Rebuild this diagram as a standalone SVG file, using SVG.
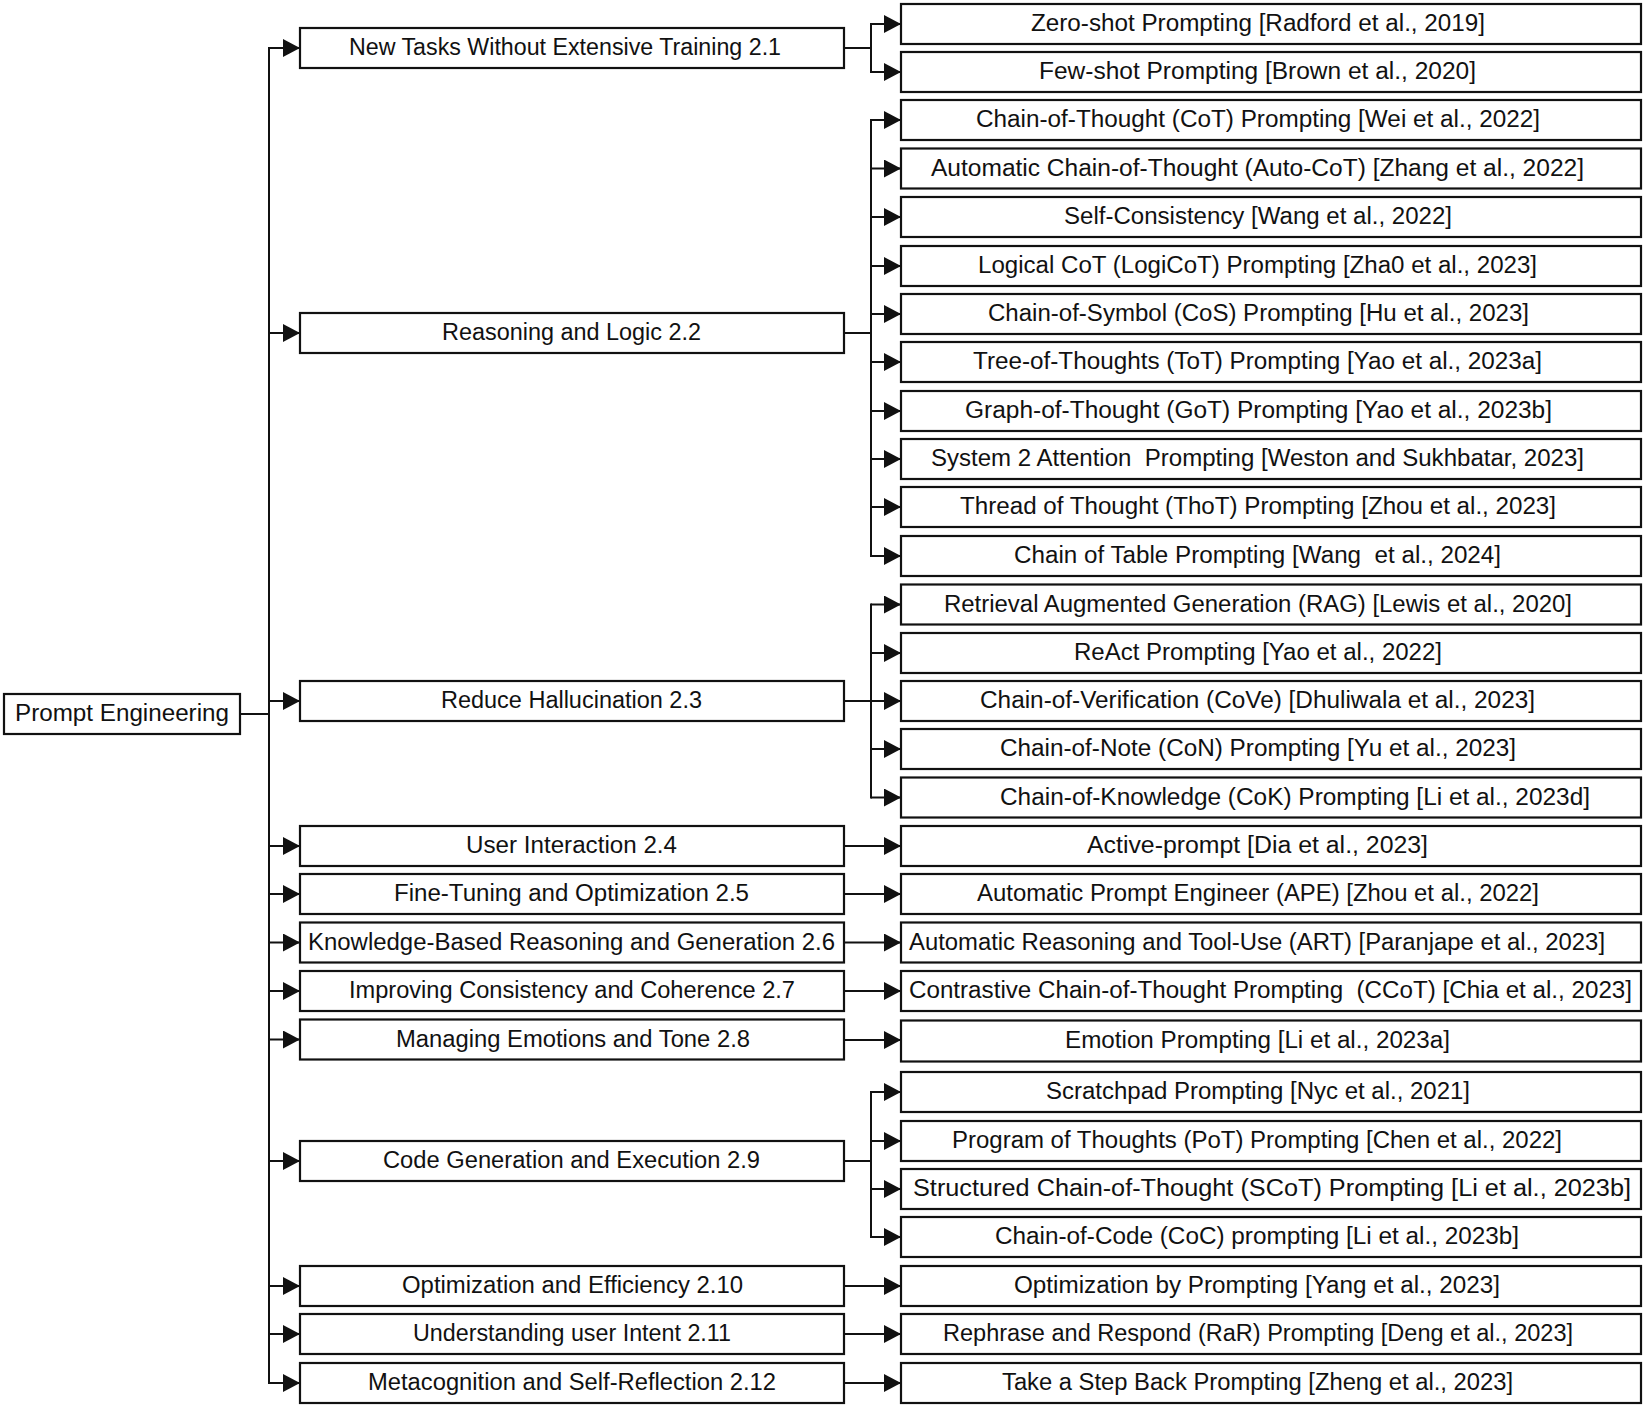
<svg xmlns="http://www.w3.org/2000/svg" width="1644" height="1407" viewBox="0 0 1644 1407">
<style>
.box{fill:#fff;stroke:#111;stroke-width:2.2}
.t{font-family:"Liberation Sans",Arial,sans-serif;font-size:23px;fill:#111}
.c{fill:none;stroke:#111;stroke-width:2}
</style>
<defs>
<marker id="ah" markerUnits="userSpaceOnUse" viewBox="0 0 17 18" markerWidth="17" markerHeight="18" refX="17" refY="9" orient="auto">
<path d="M0,0 L17,9 L0,18 z" fill="#111"/>
</marker>
</defs>
<rect width="1644" height="1407" fill="#fff"/>
<g id="connectors">
<path class="c" d="M240,714 H269 M269,47 V1384"/>
<path class="c" marker-end="url(#ah)" d="M269,48 H300"/>
<path class="c" marker-end="url(#ah)" d="M269,333 H300"/>
<path class="c" marker-end="url(#ah)" d="M269,701 H300"/>
<path class="c" marker-end="url(#ah)" d="M269,846 H300"/>
<path class="c" marker-end="url(#ah)" d="M269,894 H300"/>
<path class="c" marker-end="url(#ah)" d="M269,942.5 H300"/>
<path class="c" marker-end="url(#ah)" d="M269,991 H300"/>
<path class="c" marker-end="url(#ah)" d="M269,1039.5 H300"/>
<path class="c" marker-end="url(#ah)" d="M269,1161 H300"/>
<path class="c" marker-end="url(#ah)" d="M269,1286 H300"/>
<path class="c" marker-end="url(#ah)" d="M269,1334 H300"/>
<path class="c" marker-end="url(#ah)" d="M269,1383 H300"/>
<path class="c" d="M844,48 H871 M871,23 V73"/>
<path class="c" marker-end="url(#ah)" d="M871,24 H901"/>
<path class="c" marker-end="url(#ah)" d="M871,72 H901"/>
<path class="c" d="M844,333 H871 M871,119 V557"/>
<path class="c" marker-end="url(#ah)" d="M871,120 H901"/>
<path class="c" marker-end="url(#ah)" d="M871,168.5 H901"/>
<path class="c" marker-end="url(#ah)" d="M871,217 H901"/>
<path class="c" marker-end="url(#ah)" d="M871,266 H901"/>
<path class="c" marker-end="url(#ah)" d="M871,314 H901"/>
<path class="c" marker-end="url(#ah)" d="M871,362 H901"/>
<path class="c" marker-end="url(#ah)" d="M871,411 H901"/>
<path class="c" marker-end="url(#ah)" d="M871,459 H901"/>
<path class="c" marker-end="url(#ah)" d="M871,507 H901"/>
<path class="c" marker-end="url(#ah)" d="M871,556 H901"/>
<path class="c" d="M844,701 H871 M871,603.5 V798.5"/>
<path class="c" marker-end="url(#ah)" d="M871,604.5 H901"/>
<path class="c" marker-end="url(#ah)" d="M871,653 H901"/>
<path class="c" marker-end="url(#ah)" d="M871,701 H901"/>
<path class="c" marker-end="url(#ah)" d="M871,749 H901"/>
<path class="c" marker-end="url(#ah)" d="M871,797.5 H901"/>
<path class="c" marker-end="url(#ah)" d="M844,846 H901"/>
<path class="c" marker-end="url(#ah)" d="M844,894 H901"/>
<path class="c" marker-end="url(#ah)" d="M844,942.5 H901"/>
<path class="c" marker-end="url(#ah)" d="M844,991 H901"/>
<path class="c" marker-end="url(#ah)" d="M844,1040 H901"/>
<path class="c" d="M844,1161 H871 M871,1091 V1238"/>
<path class="c" marker-end="url(#ah)" d="M871,1092 H901"/>
<path class="c" marker-end="url(#ah)" d="M871,1141 H901"/>
<path class="c" marker-end="url(#ah)" d="M871,1189 H901"/>
<path class="c" marker-end="url(#ah)" d="M871,1237 H901"/>
<path class="c" marker-end="url(#ah)" d="M844,1286 H901"/>
<path class="c" marker-end="url(#ah)" d="M844,1334 H901"/>
<path class="c" marker-end="url(#ah)" d="M844,1383 H901"/>
</g>
<g id="root"><rect class="box" x="4" y="694" width="236" height="40"/><text class="t" x="15" y="721" textLength="214" lengthAdjust="spacingAndGlyphs">Prompt Engineering</text></g>
<g id="m1"><rect class="box" x="300" y="28" width="544" height="40"/><text class="t" x="349" y="55" textLength="432" lengthAdjust="spacingAndGlyphs">New Tasks Without Extensive Training 2.1</text></g>
<g id="m2"><rect class="box" x="300" y="313" width="544" height="40"/><text class="t" x="442" y="340" textLength="259" lengthAdjust="spacingAndGlyphs">Reasoning and Logic 2.2</text></g>
<g id="m3"><rect class="box" x="300" y="681" width="544" height="40"/><text class="t" x="441" y="708" textLength="261" lengthAdjust="spacingAndGlyphs">Reduce Hallucination 2.3</text></g>
<g id="m4"><rect class="box" x="300" y="826" width="544" height="40"/><text class="t" x="466" y="853" textLength="211" lengthAdjust="spacingAndGlyphs">User Interaction 2.4</text></g>
<g id="m5"><rect class="box" x="300" y="874" width="544" height="40"/><text class="t" x="394" y="901" textLength="355" lengthAdjust="spacingAndGlyphs">Fine-Tuning and Optimization 2.5</text></g>
<g id="m6"><rect class="box" x="300" y="922.5" width="544" height="40"/><text class="t" x="308" y="949.5" textLength="527" lengthAdjust="spacingAndGlyphs">Knowledge-Based Reasoning and Generation 2.6</text></g>
<g id="m7"><rect class="box" x="300" y="971" width="544" height="40"/><text class="t" x="349" y="998" textLength="446" lengthAdjust="spacingAndGlyphs">Improving Consistency and Coherence 2.7</text></g>
<g id="m8"><rect class="box" x="300" y="1019.5" width="544" height="40"/><text class="t" x="396" y="1046.5" textLength="354" lengthAdjust="spacingAndGlyphs">Managing Emotions and Tone 2.8</text></g>
<g id="m9"><rect class="box" x="300" y="1141" width="544" height="40"/><text class="t" x="383" y="1168" textLength="377" lengthAdjust="spacingAndGlyphs">Code Generation and Execution 2.9</text></g>
<g id="m10"><rect class="box" x="300" y="1266" width="544" height="40"/><text class="t" x="402" y="1293" textLength="341" lengthAdjust="spacingAndGlyphs">Optimization and Efficiency 2.10</text></g>
<g id="m11"><rect class="box" x="300" y="1314" width="544" height="40"/><text class="t" x="413" y="1341" textLength="318" lengthAdjust="spacingAndGlyphs">Understanding user Intent 2.11</text></g>
<g id="m12"><rect class="box" x="300" y="1363" width="544" height="40"/><text class="t" x="368" y="1390" textLength="408" lengthAdjust="spacingAndGlyphs">Metacognition and Self-Reflection 2.12</text></g>
<g id="l1"><rect class="box" x="901" y="4" width="740" height="40"/><text class="t" x="1031" y="31" textLength="454" lengthAdjust="spacingAndGlyphs">Zero-shot Prompting [Radford et al., 2019]</text></g>
<g id="l2"><rect class="box" x="901" y="52" width="740" height="40"/><text class="t" x="1039" y="79" textLength="437" lengthAdjust="spacingAndGlyphs">Few-shot Prompting [Brown et al., 2020]</text></g>
<g id="l3"><rect class="box" x="901" y="100" width="740" height="40"/><text class="t" x="976" y="127" textLength="564" lengthAdjust="spacingAndGlyphs">Chain-of-Thought (CoT) Prompting [Wei et al., 2022]</text></g>
<g id="l4"><rect class="box" x="901" y="148.5" width="740" height="40"/><text class="t" x="931" y="175.5" textLength="653" lengthAdjust="spacingAndGlyphs">Automatic Chain-of-Thought (Auto-CoT) [Zhang et al., 2022]</text></g>
<g id="l5"><rect class="box" x="901" y="197" width="740" height="40"/><text class="t" x="1064" y="224" textLength="388" lengthAdjust="spacingAndGlyphs">Self-Consistency [Wang et al., 2022]</text></g>
<g id="l6"><rect class="box" x="901" y="246" width="740" height="40"/><text class="t" x="978" y="273" textLength="559" lengthAdjust="spacingAndGlyphs">Logical CoT (LogiCoT) Prompting [Zha0 et al., 2023]</text></g>
<g id="l7"><rect class="box" x="901" y="294" width="740" height="40"/><text class="t" x="988" y="321" textLength="541" lengthAdjust="spacingAndGlyphs">Chain-of-Symbol (CoS) Prompting [Hu et al., 2023]</text></g>
<g id="l8"><rect class="box" x="901" y="342" width="740" height="40"/><text class="t" x="973" y="369" textLength="569" lengthAdjust="spacingAndGlyphs">Tree-of-Thoughts (ToT) Prompting [Yao et al., 2023a]</text></g>
<g id="l9"><rect class="box" x="901" y="391" width="740" height="40"/><text class="t" x="965" y="418" textLength="587" lengthAdjust="spacingAndGlyphs">Graph-of-Thought (GoT) Prompting [Yao et al., 2023b]</text></g>
<g id="l10"><rect class="box" x="901" y="439" width="740" height="40"/><text class="t" x="931" y="466" textLength="653" lengthAdjust="spacingAndGlyphs" xml:space="preserve">System 2 Attention  Prompting [Weston and Sukhbatar, 2023]</text></g>
<g id="l11"><rect class="box" x="901" y="487" width="740" height="40"/><text class="t" x="960" y="514" textLength="596" lengthAdjust="spacingAndGlyphs">Thread of Thought (ThoT) Prompting [Zhou et al., 2023]</text></g>
<g id="l12"><rect class="box" x="901" y="536" width="740" height="40"/><text class="t" x="1014" y="563" textLength="487" lengthAdjust="spacingAndGlyphs" xml:space="preserve">Chain of Table Prompting [Wang  et al., 2024]</text></g>
<g id="l13"><rect class="box" x="901" y="584.5" width="740" height="40"/><text class="t" x="944" y="611.5" textLength="628" lengthAdjust="spacingAndGlyphs">Retrieval Augmented Generation (RAG) [Lewis et al., 2020]</text></g>
<g id="l14"><rect class="box" x="901" y="633" width="740" height="40"/><text class="t" x="1074" y="660" textLength="368" lengthAdjust="spacingAndGlyphs">ReAct Prompting [Yao et al., 2022]</text></g>
<g id="l15"><rect class="box" x="901" y="681" width="740" height="40"/><text class="t" x="980" y="708" textLength="555" lengthAdjust="spacingAndGlyphs">Chain-of-Verification (CoVe) [Dhuliwala et al., 2023]</text></g>
<g id="l16"><rect class="box" x="901" y="729" width="740" height="40"/><text class="t" x="1000" y="756" textLength="516" lengthAdjust="spacingAndGlyphs">Chain-of-Note (CoN) Prompting [Yu et al., 2023]</text></g>
<g id="l17"><rect class="box" x="901" y="777.5" width="740" height="40"/><text class="t" x="1000" y="804.5" textLength="590" lengthAdjust="spacingAndGlyphs">Chain-of-Knowledge (CoK) Prompting [Li et al., 2023d]</text></g>
<g id="l18"><rect class="box" x="901" y="826" width="740" height="40"/><text class="t" x="1087" y="853" textLength="341" lengthAdjust="spacingAndGlyphs">Active-prompt [Dia et al., 2023]</text></g>
<g id="l19"><rect class="box" x="901" y="874" width="740" height="40"/><text class="t" x="977" y="901" textLength="562" lengthAdjust="spacingAndGlyphs">Automatic Prompt Engineer (APE) [Zhou et al., 2022]</text></g>
<g id="l20"><rect class="box" x="901" y="922.5" width="740" height="40"/><text class="t" x="909" y="949.5" textLength="696" lengthAdjust="spacingAndGlyphs">Automatic Reasoning and Tool-Use (ART) [Paranjape et al., 2023]</text></g>
<g id="l21"><rect class="box" x="901" y="971" width="740" height="40"/><text class="t" x="909" y="998" textLength="723" lengthAdjust="spacingAndGlyphs" xml:space="preserve">Contrastive Chain-of-Thought Prompting  (CCoT) [Chia et al., 2023]</text></g>
<g id="l22"><rect class="box" x="901" y="1020.5" width="740" height="41"/><text class="t" x="1065" y="1048" textLength="385" lengthAdjust="spacingAndGlyphs">Emotion Prompting [Li et al., 2023a]</text></g>
<g id="l23"><rect class="box" x="901" y="1072" width="740" height="40"/><text class="t" x="1046" y="1099" textLength="424" lengthAdjust="spacingAndGlyphs">Scratchpad Prompting [Nyc et al., 2021]</text></g>
<g id="l24"><rect class="box" x="901" y="1121" width="740" height="40"/><text class="t" x="952" y="1148" textLength="610" lengthAdjust="spacingAndGlyphs">Program of Thoughts (PoT) Prompting [Chen et al., 2022]</text></g>
<g id="l25"><rect class="box" x="901" y="1169" width="740" height="40"/><text class="t" x="913" y="1196" textLength="718" lengthAdjust="spacingAndGlyphs">Structured Chain-of-Thought (SCoT) Prompting [Li et al., 2023b]</text></g>
<g id="l26"><rect class="box" x="901" y="1217" width="740" height="40"/><text class="t" x="995" y="1244" textLength="524" lengthAdjust="spacingAndGlyphs">Chain-of-Code (CoC) prompting [Li et al., 2023b]</text></g>
<g id="l27"><rect class="box" x="901" y="1266" width="740" height="40"/><text class="t" x="1014" y="1293" textLength="486" lengthAdjust="spacingAndGlyphs">Optimization by Prompting [Yang et al., 2023]</text></g>
<g id="l28"><rect class="box" x="901" y="1314" width="740" height="40"/><text class="t" x="943" y="1341" textLength="630" lengthAdjust="spacingAndGlyphs">Rephrase and Respond (RaR) Prompting [Deng et al., 2023]</text></g>
<g id="l29"><rect class="box" x="901" y="1363" width="740" height="40"/><text class="t" x="1002" y="1390" textLength="511" lengthAdjust="spacingAndGlyphs">Take a Step Back Prompting [Zheng et al., 2023]</text></g>
</svg>
